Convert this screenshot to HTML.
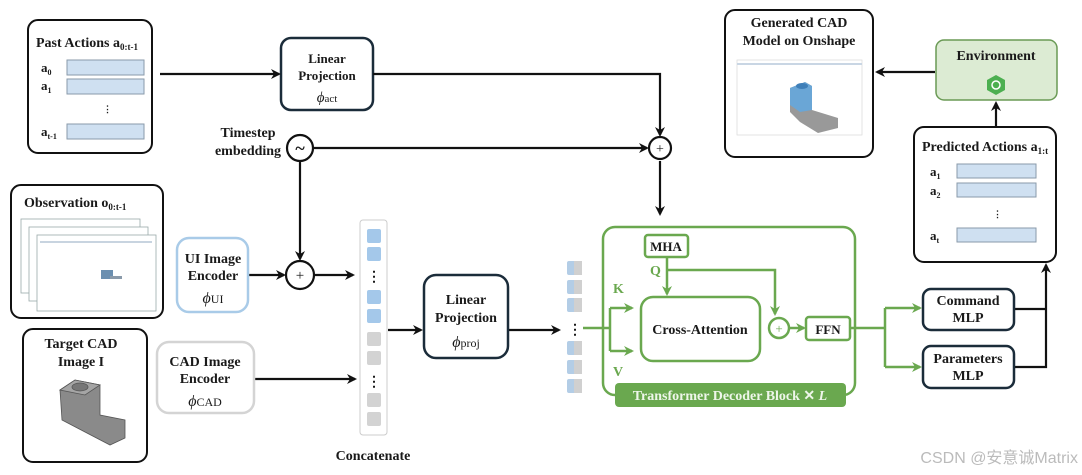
<!DOCTYPE html>
<html><head><meta charset="utf-8"><style>
body{margin:0;background:#fff}
svg text{font-family:"Liberation Serif",serif;font-weight:bold;fill:#1a1a1a}
</style></head><body>
<svg width="1082" height="470" viewBox="0 0 1082 470" xmlns="http://www.w3.org/2000/svg">
<defs>
<marker id="ab" markerWidth="10" markerHeight="10" refX="8" refY="5" orient="auto" markerUnits="userSpaceOnUse"><path d="M0,0 L10,5 L0,10 L3,5 z" fill="#111"/></marker>
<marker id="ag" markerWidth="10" markerHeight="10" refX="8" refY="5" orient="auto" markerUnits="userSpaceOnUse"><path d="M0,0 L10,5 L0,10 L3,5 z" fill="#6aa84f"/></marker>
</defs>
<g stroke="#111" stroke-width="2" fill="none">
<!-- Past actions -->
<rect x="28" y="20" width="124" height="133" rx="10"/>
<rect x="11" y="185" width="152" height="133" rx="10"/>
<rect x="23" y="329" width="124" height="133" rx="10"/>
<rect x="725" y="10" width="148" height="147" rx="10"/>
<rect x="914" y="127" width="142" height="135" rx="10"/>
</g>
<text x="36" y="47" font-size="14">Past Actions  a<tspan font-size="9" dy="3">0:t-1</tspan></text>
<g fill="#cfe0f1" stroke="#8a9aaa" stroke-width="1">
<rect x="67" y="60" width="77" height="15"/><rect x="67" y="79" width="77" height="15"/><rect x="67" y="124" width="77" height="15"/>
<rect x="957" y="164" width="79" height="14"/><rect x="957" y="183" width="79" height="14"/><rect x="957" y="228" width="79" height="14"/>
</g>
<text x="41" y="72" font-size="13">a<tspan font-size="8" dy="3">0</tspan></text>
<text x="41" y="90" font-size="13">a<tspan font-size="8" dy="3">1</tspan></text>
<text x="103" y="112" font-size="9">⋮</text>
<text x="41" y="136" font-size="13">a<tspan font-size="8" dy="3">t-1</tspan></text>

<text x="922" y="151" font-size="14">Predicted Actions  a<tspan font-size="9" dy="3">1:t</tspan></text>
<text x="930" y="176" font-size="13">a<tspan font-size="8" dy="3">1</tspan></text>
<text x="930" y="195" font-size="13">a<tspan font-size="8" dy="3">2</tspan></text>
<text x="993" y="217" font-size="9">⋮</text>
<text x="930" y="240" font-size="13">a<tspan font-size="8" dy="3">t</tspan></text>

<!-- Linear projection act -->
<rect x="281" y="38" width="92" height="72" rx="10" fill="none" stroke="#1b2c3a" stroke-width="2.5"/>
<text x="327" y="63" font-size="13" text-anchor="middle">Linear</text>
<text x="327" y="80" font-size="13" text-anchor="middle">Projection</text>
<text x="327" y="102" font-size="15" text-anchor="middle" style="font-weight:normal;font-style:italic" fill="#444">ϕ<tspan font-size="11" style="font-style:normal">act</tspan></text>

<text x="248" y="137" font-size="14" text-anchor="middle">Timestep</text>
<text x="248" y="155" font-size="14" text-anchor="middle">embedding</text>

<!-- connectors black -->
<g stroke="#111" stroke-width="2.2" fill="none">
<line x1="160" y1="74" x2="279" y2="74" marker-end="url(#ab)"/>
<polyline points="373,74 660,74 660,135" marker-end="url(#ab)"/>
<line x1="313" y1="148" x2="647" y2="148" marker-end="url(#ab)"/>
<line x1="300" y1="161" x2="300" y2="259" marker-end="url(#ab)"/>
<line x1="660" y1="161" x2="660" y2="214" marker-end="url(#ab)"/>
<line x1="249" y1="275" x2="284" y2="275" marker-end="url(#ab)"/>
<line x1="314" y1="275" x2="353" y2="275" marker-end="url(#ab)"/>
<line x1="255" y1="379" x2="355" y2="379" marker-end="url(#ab)"/>
<line x1="388" y1="330" x2="421" y2="330" marker-end="url(#ab)"/>
<line x1="508" y1="330" x2="559" y2="330" marker-end="url(#ab)"/>
<polyline points="1014,309 1046,309"/>
<polyline points="1014,367 1046,367 1046,265" marker-end="url(#ab)"/>
<line x1="996" y1="126" x2="996" y2="103" marker-end="url(#ab)"/>
<line x1="935" y1="72" x2="877" y2="72" marker-end="url(#ab)"/>
<circle cx="300" cy="148" r="13" fill="#fff"/>
<circle cx="660" cy="148" r="11" fill="#fff"/>
<circle cx="300" cy="275" r="14" fill="#fff"/>
</g>
<text x="300" y="154" font-size="18" text-anchor="middle">~</text>
<text x="660" y="153" font-size="14" text-anchor="middle" style="font-weight:normal">+</text>
<text x="300" y="280" font-size="15" text-anchor="middle" style="font-weight:normal">+</text>

<!-- observation -->
<text x="24" y="207" font-size="14">Observation  o<tspan font-size="9" dy="3">0:t-1</tspan></text>
<g stroke="#9aa" stroke-width="0.8" fill="#fff">
<rect x="21" y="219" width="119" height="74"/>
<rect x="29" y="227" width="119" height="74"/>
<rect x="37" y="235" width="119" height="76"/>
</g>
<rect x="101" y="270" width="12" height="9" fill="#6b8fb0"/>
<rect x="110" y="276" width="12" height="3" fill="#8a9aaa"/>
<line x1="40" y1="242" x2="152" y2="242" stroke="#c8d4e0" stroke-width="2"/>

<!-- target CAD -->
<text x="81" y="348" font-size="14" text-anchor="middle">Target CAD</text>
<text x="81" y="366" font-size="14" text-anchor="middle">Image I</text>
<g stroke="#555" stroke-width="0.8">
<polygon points="60,390 75,380 100,385 100,415 125,420 125,438 110,445 85,432 62,420" fill="#8a8a8a"/>
<polygon points="60,390 75,380 100,385 85,395" fill="#a5a5a5"/>
<ellipse cx="80" cy="387" rx="8" ry="4" fill="#777"/>
</g>

<!-- encoders -->
<rect x="177" y="238" width="71" height="74" rx="12" fill="none" stroke="#a9cbe8" stroke-width="2.5"/>
<text x="213" y="263" font-size="14" text-anchor="middle">UI Image</text>
<text x="213" y="280" font-size="14" text-anchor="middle">Encoder</text>
<text x="213" y="303" font-size="16" text-anchor="middle" style="font-weight:normal;font-style:italic" fill="#444">ϕ<tspan font-size="12" style="font-style:normal">UI</tspan></text>
<rect x="157" y="342" width="97" height="71" rx="12" fill="none" stroke="#d4d4d4" stroke-width="2.5"/>
<text x="205" y="366" font-size="14" text-anchor="middle">CAD Image</text>
<text x="205" y="383" font-size="14" text-anchor="middle">Encoder</text>
<text x="205" y="406" font-size="16" text-anchor="middle" style="font-weight:normal;font-style:italic" fill="#444">ϕ<tspan font-size="12" style="font-style:normal">CAD</tspan></text>

<!-- concat column -->
<rect x="360" y="220" width="27" height="215" rx="3" fill="#fff" stroke="#ccc" stroke-width="1"/>
<g fill="#a4c8ea"><rect x="367" y="229" width="14" height="14" rx="2"/><rect x="367" y="247" width="14" height="14" rx="2"/><rect x="367" y="290" width="14" height="14" rx="2"/><rect x="367" y="309" width="14" height="14" rx="2"/></g>
<g fill="#d3d3d3"><rect x="367" y="332" width="14" height="14" rx="2"/><rect x="367" y="351" width="14" height="14" rx="2"/><rect x="367" y="393" width="14" height="14" rx="2"/><rect x="367" y="412" width="14" height="14" rx="2"/></g>
<text x="374" y="281" font-size="14" text-anchor="middle">⋮</text>
<text x="374" y="386" font-size="14" text-anchor="middle">⋮</text>
<text x="373" y="460" font-size="14" text-anchor="middle">Concatenate</text>

<!-- linear proj -->
<rect x="424" y="275" width="84" height="83" rx="12" fill="none" stroke="#1b2c3a" stroke-width="2.5"/>
<text x="466" y="304" font-size="14" text-anchor="middle">Linear</text>
<text x="466" y="322" font-size="14" text-anchor="middle">Projection</text>
<text x="466" y="347" font-size="16" text-anchor="middle" style="font-weight:normal;font-style:italic" fill="#444">ϕ<tspan font-size="12" style="font-style:normal">proj</tspan></text>

<!-- small column -->
<g>
<rect x="567" y="261" width="15" height="14" rx="2" fill="#b3cde6"/><rect x="567" y="280" width="15" height="14" rx="2" fill="#b3cde6"/><rect x="567" y="298" width="15" height="14" rx="2" fill="#b3cde6"/>
<rect x="567" y="341" width="15" height="14" rx="2" fill="#b3cde6"/><rect x="567" y="360" width="15" height="14" rx="2" fill="#b3cde6"/><rect x="567" y="379" width="15" height="14" rx="2" fill="#b3cde6"/>
<rect x="574" y="261" width="8" height="14" fill="#d0d0d0"/><rect x="574" y="280" width="8" height="14" fill="#d0d0d0"/><rect x="574" y="298" width="8" height="14" fill="#d0d0d0"/><rect x="574" y="341" width="8" height="14" fill="#d0d0d0"/><rect x="574" y="360" width="8" height="14" fill="#d0d0d0"/><rect x="574" y="379" width="8" height="14" fill="#d0d0d0"/>
</g>
<text x="575" y="334" font-size="14" text-anchor="middle">⋮</text>

<!-- transformer -->
<g stroke="#6aa84f" stroke-width="2.5" fill="none">
<rect x="603" y="227" width="252" height="168" rx="12"/>
<rect x="645" y="235" width="43" height="22" rx="3"/>
<rect x="641" y="297" width="119" height="64" rx="12"/>
<rect x="806" y="317" width="44" height="23" rx="3"/>
<circle cx="779" cy="328" r="10"/>
<polyline points="583,328 610,328"/>
<polyline points="610,308 610,351"/>
<line x1="610" y1="308" x2="632" y2="308" marker-end="url(#ag)"/>
<line x1="610" y1="351" x2="632" y2="351" marker-end="url(#ag)"/>
<line x1="667" y1="257" x2="667" y2="294" marker-end="url(#ag)"/>
<polyline points="667,270 775,270 775,314" marker-end="url(#ag)"/>
<line x1="789" y1="328" x2="804" y2="328" marker-end="url(#ag)"/>
<polyline points="850,328 885,328"/>
<polyline points="885,308 885,367"/>
<line x1="885" y1="308" x2="920" y2="308" marker-end="url(#ag)"/>
<line x1="885" y1="367" x2="920" y2="367" marker-end="url(#ag)"/>
</g>
<text x="779" y="333" font-size="13" text-anchor="middle" style="font-weight:normal;fill:#6aa84f">+</text>
<text x="666" y="251" font-size="13" text-anchor="middle">MHA</text>
<text x="828" y="334" font-size="13" text-anchor="middle">FFN</text>
<text x="700" y="334" font-size="14" text-anchor="middle">Cross-Attention</text>
<text x="650" y="275" font-size="14" style="fill:#6aa84f">Q</text>
<text x="613" y="293" font-size="14" style="fill:#6aa84f">K</text>
<text x="613" y="376" font-size="14" style="fill:#6aa84f">V</text>
<rect x="615" y="383" width="231" height="24" rx="4" fill="#6aa84f"/>
<text x="730" y="400" font-size="14" text-anchor="middle" style="fill:#eef6ea">Transformer Decoder Block ✕ <tspan font-style="italic">L</tspan></text>

<!-- MLPs -->
<rect x="923" y="289" width="91" height="41" rx="8" fill="none" stroke="#1b2c3a" stroke-width="2.5"/>
<text x="968" y="305" font-size="14" text-anchor="middle">Command</text>
<text x="968" y="322" font-size="14" text-anchor="middle">MLP</text>
<rect x="923" y="346" width="91" height="42" rx="8" fill="none" stroke="#1b2c3a" stroke-width="2.5"/>
<text x="968" y="363" font-size="14" text-anchor="middle">Parameters</text>
<text x="968" y="380" font-size="14" text-anchor="middle">MLP</text>

<!-- environment -->
<rect x="936" y="40" width="121" height="60" rx="8" fill="#dcebd3" stroke="#6a9a55" stroke-width="1.5"/>
<text x="996" y="60" font-size="14" text-anchor="middle">Environment</text>
<polygon points="996,75 1005,80 1005,90 996,95 987,90 987,80" fill="#4caf50"/>
<circle cx="996" cy="85" r="4" fill="none" stroke="#fff" stroke-width="1.5"/>

<!-- generated -->
<text x="799" y="27" font-size="14" text-anchor="middle">Generated CAD</text>
<text x="799" y="45" font-size="14" text-anchor="middle">Model on Onshape</text>
<rect x="737" y="60" width="125" height="75" fill="#fff" stroke="#ddd" stroke-width="0.8"/>
<line x1="737" y1="64" x2="862" y2="64" stroke="#c9d6e4" stroke-width="2"/>
<polygon points="790,88 805,82 812,86 812,110 838,118 838,128 818,133 800,122 790,112" fill="#999"/>
<polygon points="790,88 805,82 812,86 812,110 800,112 790,105" fill="#6aa6d6"/>
<ellipse cx="802" cy="86" rx="6" ry="3" fill="#3f7fb8"/>
<text x="1078" y="463" font-size="16" text-anchor="end" style="font-family:'Liberation Sans','Noto Sans CJK SC',sans-serif;font-weight:normal;fill:#bbb">CSDN @安意诚Matrix</text>
</svg>
</body></html>
